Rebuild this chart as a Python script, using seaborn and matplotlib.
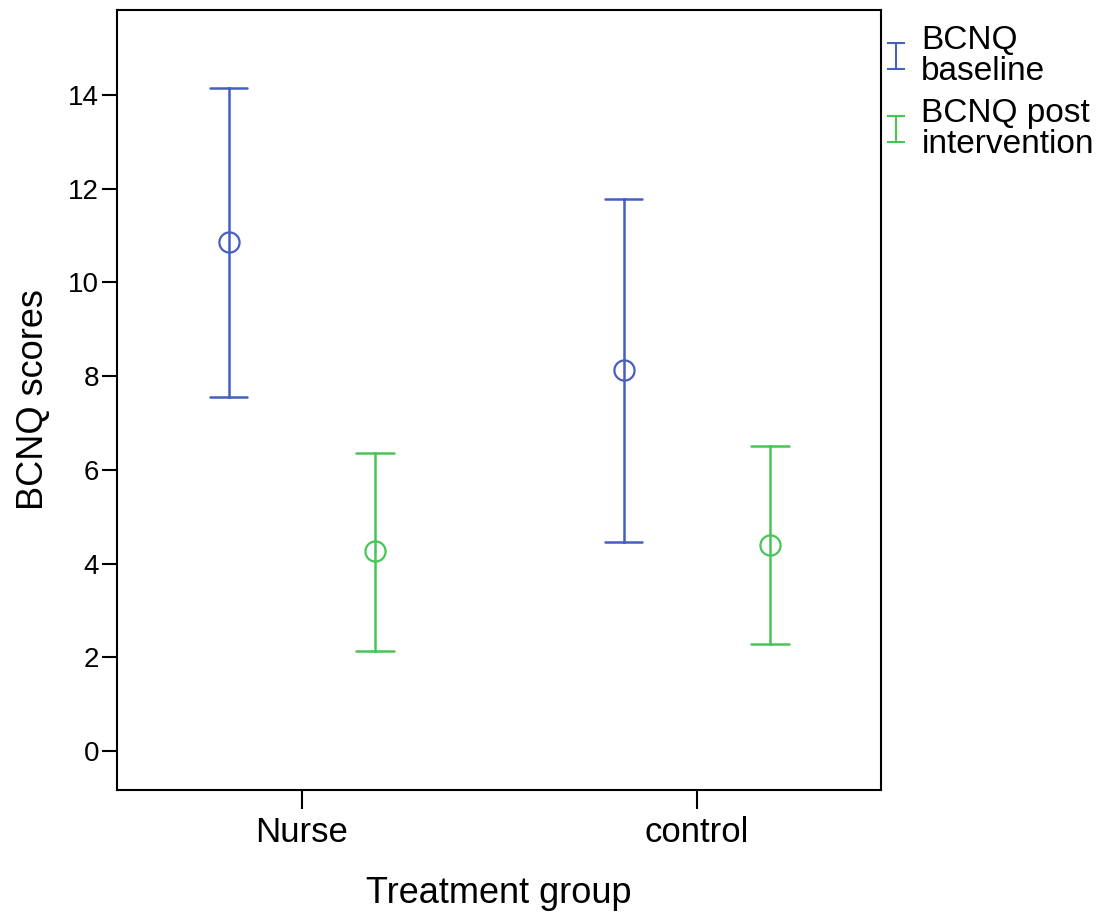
import numpy as np
import pandas as pd
import matplotlib
matplotlib.use("Agg")
import matplotlib.pyplot as plt
from matplotlib.lines import Line2D
from matplotlib.path import Path
import seaborn as sns

groups = ["Nurse", "control"]
measures = ["BCNQ baseline", "BCNQ post intervention"]
legend_labels = ["BCNQ\nbaseline", "BCNQ post\nintervention"]
means = {"BCNQ baseline": [10.86, 8.12], "BCNQ post intervention": [4.26, 4.39]}
lows = {"BCNQ baseline": [7.56, 4.47], "BCNQ post intervention": [2.13, 2.28]}
highs = {"BCNQ baseline": [14.15, 11.77], "BCNQ post intervention": [6.36, 6.50]}
y_ticks = [0, 2, 4, 6, 8, 10, 12, 14]
colors = ["#4560BE", "#49C457"]

rows = []
for m in measures:
    for i, g in enumerate(groups):
        for v in (lows[m][i], means[m][i], highs[m][i]):
            rows.append({"group": g, "measure": m, "value": v})
df = pd.DataFrame(rows)

sns.set_style("white")
plt.rcParams["font.family"] = ["Liberation Sans", "DejaVu Sans"]
plt.rcParams["text.color"] = "black"
plt.rcParams["axes.labelcolor"] = "black"
plt.rcParams["xtick.color"] = "black"
plt.rcParams["ytick.color"] = "black"

fig = plt.figure(figsize=(11.2, 9.15), dpi=100)
ax = fig.add_axes([117 / 1120, 1 - 790 / 915, (880.7 - 117) / 1120, (790 - 10) / 915])

sns.pointplot(
    data=df, x="group", y="value", hue="measure", order=groups, hue_order=measures,
    estimator="median", errorbar=lambda v: (v.min(), v.max()),
    dodge=0.37, linestyle="none", marker="o", markersize=14.5,
    markerfacecolor="none", markeredgewidth=1.6,
    palette=colors, capsize=0.095, err_kws={"linewidth": 1.8},
    legend=False, ax=ax,
)

ax.set_xlim(-0.4676, 1.4658)
ax.set_ylim(-0.83, 15.81)
ax.set_yticks(y_ticks)
ax.set_yticklabels([str(t) for t in y_ticks])
ax.set_xlabel("Treatment group", fontsize=26, labelpad=19)
ax.set_ylabel("BCNQ scores", fontsize=26, labelpad=12)
ax.tick_params(axis="y", labelsize=20, length=11, width=1.5, pad=2, direction="out", left=True)
ax.tick_params(axis="x", labelsize=25, length=14, width=1.5, pad=5, direction="out", bottom=True)
for s in ax.spines.values():
    s.set_visible(True)
    s.set_color("black")
    s.set_linewidth(1.5)

ibeam = Path([(-0.65, -1), (0.65, -1), (0, -1), (0, 1), (-0.65, 1), (0.65, 1)],
             [Path.MOVETO, Path.LINETO, Path.MOVETO, Path.LINETO, Path.MOVETO, Path.LINETO])
handles = [Line2D([], [], color=c, marker=ibeam, markersize=19, markeredgewidth=1.5,
                  markerfacecolor="none", linestyle="none") for c in colors]
leg = fig.legend(handles, legend_labels, loc="upper left",
                 bbox_to_anchor=(883 / 1120, 1 - 25 / 915),
                 bbox_transform=fig.transFigure,
                 frameon=False, fontsize=24, handlelength=0.8, handletextpad=0.35,
                 labelspacing=0.33, borderaxespad=0, borderpad=0)
for t in leg.get_texts():
    t.set_linespacing(1.0)

fig.savefig("out.png", dpi=100, facecolor="white")
